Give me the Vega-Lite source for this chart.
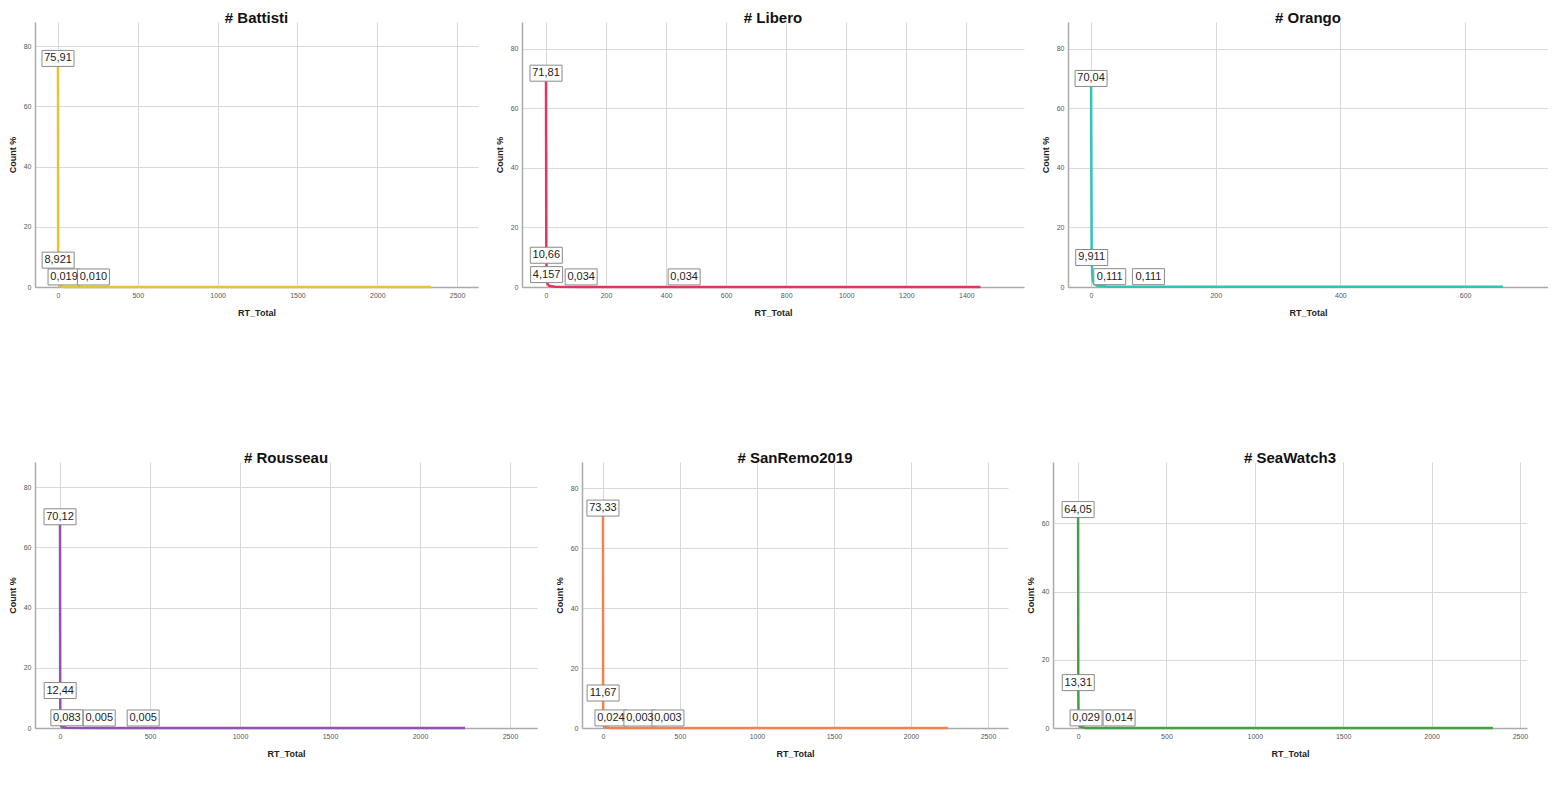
{
  "$schema": "https://vega.github.io/schema/vega-lite/v6.json",
  "padding": {"left": 8, "top": 11, "right": 0, "bottom": 0},
  "background": "white",
  "data": {
    "values": [
      {"tag": "Battisti", "rt": 0, "pct": 75.91, "label": "75,91"},
      {"tag": "Battisti", "rt": 1, "pct": 8.921, "label": "8,921"},
      {"tag": "Battisti", "rt": 2, "pct": 3.4},
      {"tag": "Battisti", "rt": 4, "pct": 1.2},
      {"tag": "Battisti", "rt": 10, "pct": 0.3},
      {"tag": "Battisti", "rt": 38, "pct": 0.019, "label": "0,019"},
      {"tag": "Battisti", "rt": 222, "pct": 0.01, "label": "0,010"},
      {"tag": "Battisti", "rt": 2337, "pct": 0.005},

      {"tag": "Libero", "rt": 0, "pct": 71.81, "label": "71,81"},
      {"tag": "Libero", "rt": 1, "pct": 10.66, "label": "10,66"},
      {"tag": "Libero", "rt": 2, "pct": 4.157, "label": "4,157"},
      {"tag": "Libero", "rt": 3, "pct": 2.1},
      {"tag": "Libero", "rt": 5, "pct": 1.0},
      {"tag": "Libero", "rt": 10, "pct": 0.4},
      {"tag": "Libero", "rt": 30, "pct": 0.1},
      {"tag": "Libero", "rt": 117, "pct": 0.034, "label": "0,034"},
      {"tag": "Libero", "rt": 460, "pct": 0.034, "label": "0,034"},
      {"tag": "Libero", "rt": 1447, "pct": 0.034},

      {"tag": "Orango", "rt": 0, "pct": 70.04, "label": "70,04"},
      {"tag": "Orango", "rt": 1, "pct": 9.911, "label": "9,911"},
      {"tag": "Orango", "rt": 2, "pct": 3.9},
      {"tag": "Orango", "rt": 3, "pct": 2.0},
      {"tag": "Orango", "rt": 5, "pct": 1.0},
      {"tag": "Orango", "rt": 10, "pct": 0.4},
      {"tag": "Orango", "rt": 30, "pct": 0.111, "label": "0,111"},
      {"tag": "Orango", "rt": 92, "pct": 0.111, "label": "0,111"},
      {"tag": "Orango", "rt": 661, "pct": 0.111},

      {"tag": "Rousseau", "rt": 0, "pct": 70.12, "label": "70,12"},
      {"tag": "Rousseau", "rt": 1, "pct": 12.44, "label": "12,44"},
      {"tag": "Rousseau", "rt": 2, "pct": 4.2},
      {"tag": "Rousseau", "rt": 3, "pct": 2.0},
      {"tag": "Rousseau", "rt": 5, "pct": 0.9},
      {"tag": "Rousseau", "rt": 10, "pct": 0.3},
      {"tag": "Rousseau", "rt": 38, "pct": 0.083, "label": "0,083"},
      {"tag": "Rousseau", "rt": 218, "pct": 0.005, "label": "0,005"},
      {"tag": "Rousseau", "rt": 462, "pct": 0.005, "label": "0,005"},
      {"tag": "Rousseau", "rt": 2250, "pct": 0.005},

      {"tag": "SanRemo2019", "rt": 0, "pct": 73.33, "label": "73,33"},
      {"tag": "SanRemo2019", "rt": 1, "pct": 11.67, "label": "11,67"},
      {"tag": "SanRemo2019", "rt": 2, "pct": 3.8},
      {"tag": "SanRemo2019", "rt": 3, "pct": 1.8},
      {"tag": "SanRemo2019", "rt": 5, "pct": 0.8},
      {"tag": "SanRemo2019", "rt": 10, "pct": 0.3},
      {"tag": "SanRemo2019", "rt": 52, "pct": 0.024, "label": "0,024"},
      {"tag": "SanRemo2019", "rt": 240, "pct": 0.003, "label": "0,003"},
      {"tag": "SanRemo2019", "rt": 422, "pct": 0.003, "label": "0,003"},
      {"tag": "SanRemo2019", "rt": 2240, "pct": 0.003},

      {"tag": "SeaWatch3", "rt": 0, "pct": 64.05, "label": "64,05"},
      {"tag": "SeaWatch3", "rt": 1, "pct": 13.31, "label": "13,31"},
      {"tag": "SeaWatch3", "rt": 2, "pct": 5.5},
      {"tag": "SeaWatch3", "rt": 3, "pct": 2.6},
      {"tag": "SeaWatch3", "rt": 5, "pct": 1.2},
      {"tag": "SeaWatch3", "rt": 10, "pct": 0.4},
      {"tag": "SeaWatch3", "rt": 45, "pct": 0.029, "label": "0,029"},
      {"tag": "SeaWatch3", "rt": 232, "pct": 0.014, "label": "0,014"},
      {"tag": "SeaWatch3", "rt": 2347, "pct": 0.014}
    ]
  },
  "vconcat": [
    {
      "spacing": 17,
      "hconcat": [
        {
          "title": "# Battisti",
          "width": 443, "height": 265,
          "transform": [{"filter": "datum.tag === 'Battisti'"}],
          "encoding": {
            "x": {"field": "rt", "type": "quantitative", "title": "RT_Total",
                  "scale": {"domain": [-144, 2631], "nice": false, "zero": false},
                  "axis": {"values": [0, 500, 1000, 1500, 2000, 2500], "format": "d"}},
            "y": {"field": "pct", "type": "quantitative", "title": "Count %",
                  "scale": {"domain": [0, 88], "nice": false},
                  "axis": {"values": [0, 20, 40, 60, 80]}}
          },
          "layer": [
            {"mark": {"type": "line", "color": "#E8C233", "strokeWidth": 2.5}},
            {"transform": [{"filter": "isValid(datum.label) && datum.pct >= 3"}],
             "mark": {"type": "point", "shape": "M-1,-0.5H1V0.5H-1Z", "size": 1024, "filled": true, "fill": "white", "stroke": "#8a8a8a", "strokeWidth": 1, "opacity": 1}},
            {"transform": [{"filter": "isValid(datum.label) && datum.pct >= 3"}],
             "mark": {"type": "text", "fontSize": 11, "color": "#222"},
             "encoding": {"text": {"field": "label"}}},
            {"transform": [{"filter": "isValid(datum.label) && datum.pct < 3"}],
             "mark": {"type": "point", "shape": "M-1,-0.5H1V0.5H-1Z", "size": 1024, "filled": true, "fill": "white", "stroke": "#8a8a8a", "strokeWidth": 1, "opacity": 1, "yOffset": -10}},
            {"transform": [{"filter": "isValid(datum.label) && datum.pct < 3"}],
             "mark": {"type": "text", "fontSize": 11, "color": "#222", "yOffset": -10},
             "encoding": {"text": {"field": "label"}}}
          ]
        },
        {
          "title": "# Libero",
          "width": 502, "height": 265,
          "transform": [{"filter": "datum.tag === 'Libero'"}],
          "encoding": {
            "x": {"field": "rt", "type": "quantitative", "title": "RT_Total",
                  "scale": {"domain": [-80, 1592], "nice": false, "zero": false},
                  "axis": {"values": [0, 200, 400, 600, 800, 1000, 1200, 1400], "format": "d"}},
            "y": {"field": "pct", "type": "quantitative", "title": "Count %",
                  "scale": {"domain": [0, 89], "nice": false},
                  "axis": {"values": [0, 20, 40, 60, 80]}}
          },
          "layer": [
            {"mark": {"type": "line", "color": "#E63260", "strokeWidth": 2.5}},
            {"transform": [{"filter": "isValid(datum.label) && datum.pct >= 3"}],
             "mark": {"type": "point", "shape": "M-1,-0.5H1V0.5H-1Z", "size": 1024, "filled": true, "fill": "white", "stroke": "#8a8a8a", "strokeWidth": 1, "opacity": 1}},
            {"transform": [{"filter": "isValid(datum.label) && datum.pct >= 3"}],
             "mark": {"type": "text", "fontSize": 11, "color": "#222"},
             "encoding": {"text": {"field": "label"}}},
            {"transform": [{"filter": "isValid(datum.label) && datum.pct < 3"}],
             "mark": {"type": "point", "shape": "M-1,-0.5H1V0.5H-1Z", "size": 1024, "filled": true, "fill": "white", "stroke": "#8a8a8a", "strokeWidth": 1, "opacity": 1, "yOffset": -10}},
            {"transform": [{"filter": "isValid(datum.label) && datum.pct < 3"}],
             "mark": {"type": "text", "fontSize": 11, "color": "#222", "yOffset": -10},
             "encoding": {"text": {"field": "label"}}}
          ]
        },
        {
          "title": "# Orango",
          "width": 480, "height": 265,
          "transform": [{"filter": "datum.tag === 'Orango'"}],
          "encoding": {
            "x": {"field": "rt", "type": "quantitative", "title": "RT_Total",
                  "scale": {"domain": [-37, 733], "nice": false, "zero": false},
                  "axis": {"values": [0, 200, 400, 600], "format": "d"}},
            "y": {"field": "pct", "type": "quantitative", "title": "Count %",
                  "scale": {"domain": [0, 89], "nice": false},
                  "axis": {"values": [0, 20, 40, 60, 80]}}
          },
          "layer": [
            {"mark": {"type": "line", "color": "#2EC4B6", "strokeWidth": 2.5}},
            {"transform": [{"filter": "isValid(datum.label) && datum.pct >= 3"}],
             "mark": {"type": "point", "shape": "M-1,-0.5H1V0.5H-1Z", "size": 1024, "filled": true, "fill": "white", "stroke": "#8a8a8a", "strokeWidth": 1, "opacity": 1}},
            {"transform": [{"filter": "isValid(datum.label) && datum.pct >= 3"}],
             "mark": {"type": "text", "fontSize": 11, "color": "#222"},
             "encoding": {"text": {"field": "label"}}},
            {"transform": [{"filter": "isValid(datum.label) && datum.pct < 3"}],
             "mark": {"type": "point", "shape": "M-1,-0.5H1V0.5H-1Z", "size": 1024, "filled": true, "fill": "white", "stroke": "#8a8a8a", "strokeWidth": 1, "opacity": 1, "yOffset": -10}},
            {"transform": [{"filter": "isValid(datum.label) && datum.pct < 3"}],
             "mark": {"type": "text", "fontSize": 11, "color": "#222", "yOffset": -10},
             "encoding": {"text": {"field": "label"}}}
          ]
        }
      ]
    },
    {
      "spacing": 18,
      "hconcat": [
        {
          "title": "# Rousseau",
          "width": 502, "height": 266,
          "transform": [{"filter": "datum.tag === 'Rousseau'"}],
          "encoding": {
            "x": {"field": "rt", "type": "quantitative", "title": "RT_Total",
                  "scale": {"domain": [-139, 2650], "nice": false, "zero": false},
                  "axis": {"values": [0, 500, 1000, 1500, 2000, 2500], "format": "d"}},
            "y": {"field": "pct", "type": "quantitative", "title": "Count %",
                  "scale": {"domain": [0, 88.3], "nice": false},
                  "axis": {"values": [0, 20, 40, 60, 80]}}
          },
          "layer": [
            {"mark": {"type": "line", "color": "#9351B0", "strokeWidth": 2.5}},
            {"transform": [{"filter": "isValid(datum.label) && datum.pct >= 3"}],
             "mark": {"type": "point", "shape": "M-1,-0.5H1V0.5H-1Z", "size": 1024, "filled": true, "fill": "white", "stroke": "#8a8a8a", "strokeWidth": 1, "opacity": 1}},
            {"transform": [{"filter": "isValid(datum.label) && datum.pct >= 3"}],
             "mark": {"type": "text", "fontSize": 11, "color": "#222"},
             "encoding": {"text": {"field": "label"}}},
            {"transform": [{"filter": "isValid(datum.label) && datum.pct < 3"}],
             "mark": {"type": "point", "shape": "M-1,-0.5H1V0.5H-1Z", "size": 1024, "filled": true, "fill": "white", "stroke": "#8a8a8a", "strokeWidth": 1, "opacity": 1, "yOffset": -10}},
            {"transform": [{"filter": "isValid(datum.label) && datum.pct < 3"}],
             "mark": {"type": "text", "fontSize": 11, "color": "#222", "yOffset": -10},
             "encoding": {"text": {"field": "label"}}}
          ]
        },
        {
          "title": "# SanRemo2019",
          "width": 426, "height": 266,
          "transform": [{"filter": "datum.tag === 'SanRemo2019'"}],
          "encoding": {
            "x": {"field": "rt", "type": "quantitative", "title": "RT_Total",
                  "scale": {"domain": [-136, 2630], "nice": false, "zero": false},
                  "axis": {"values": [0, 500, 1000, 1500, 2000, 2500], "format": "d"}},
            "y": {"field": "pct", "type": "quantitative", "title": "Count %",
                  "scale": {"domain": [0, 88.7], "nice": false},
                  "axis": {"values": [0, 20, 40, 60, 80]}}
          },
          "layer": [
            {"mark": {"type": "line", "color": "#F4824E", "strokeWidth": 2.5}},
            {"transform": [{"filter": "isValid(datum.label) && datum.pct >= 3"}],
             "mark": {"type": "point", "shape": "M-1,-0.5H1V0.5H-1Z", "size": 1024, "filled": true, "fill": "white", "stroke": "#8a8a8a", "strokeWidth": 1, "opacity": 1}},
            {"transform": [{"filter": "isValid(datum.label) && datum.pct >= 3"}],
             "mark": {"type": "text", "fontSize": 11, "color": "#222"},
             "encoding": {"text": {"field": "label"}}},
            {"transform": [{"filter": "isValid(datum.label) && datum.pct < 3"}],
             "mark": {"type": "point", "shape": "M-1,-0.5H1V0.5H-1Z", "size": 1024, "filled": true, "fill": "white", "stroke": "#8a8a8a", "strokeWidth": 1, "opacity": 1, "yOffset": -10}},
            {"transform": [{"filter": "isValid(datum.label) && datum.pct < 3"}],
             "mark": {"type": "text", "fontSize": 11, "color": "#222", "yOffset": -10},
             "encoding": {"text": {"field": "label"}}}
          ]
        },
        {
          "title": "# SeaWatch3",
          "width": 474, "height": 266,
          "transform": [{"filter": "datum.tag === 'SeaWatch3'"}],
          "encoding": {
            "x": {"field": "rt", "type": "quantitative", "title": "RT_Total",
                  "scale": {"domain": [-142, 2540], "nice": false, "zero": false},
                  "axis": {"values": [0, 500, 1000, 1500, 2000, 2500], "format": "d"}},
            "y": {"field": "pct", "type": "quantitative", "title": "Count %",
                  "scale": {"domain": [0, 78], "nice": false},
                  "axis": {"values": [0, 20, 40, 60]}}
          },
          "layer": [
            {"mark": {"type": "line", "color": "#45A045", "strokeWidth": 2.5}},
            {"transform": [{"filter": "isValid(datum.label) && datum.pct >= 3"}],
             "mark": {"type": "point", "shape": "M-1,-0.5H1V0.5H-1Z", "size": 1024, "filled": true, "fill": "white", "stroke": "#8a8a8a", "strokeWidth": 1, "opacity": 1}},
            {"transform": [{"filter": "isValid(datum.label) && datum.pct >= 3"}],
             "mark": {"type": "text", "fontSize": 11, "color": "#222"},
             "encoding": {"text": {"field": "label"}}},
            {"transform": [{"filter": "isValid(datum.label) && datum.pct < 3"}],
             "mark": {"type": "point", "shape": "M-1,-0.5H1V0.5H-1Z", "size": 1024, "filled": true, "fill": "white", "stroke": "#8a8a8a", "strokeWidth": 1, "opacity": 1, "yOffset": -10}},
            {"transform": [{"filter": "isValid(datum.label) && datum.pct < 3"}],
             "mark": {"type": "text", "fontSize": 11, "color": "#222", "yOffset": -10},
             "encoding": {"text": {"field": "label"}}}
          ]
        }
      ]
    }
  ],
  "spacing": 134,
  "config": {
    "font": "Liberation Sans",
    "view": {"stroke": null},
    "title": {"fontSize": 15, "fontWeight": "bold", "color": "#111", "offset": -4, "anchor": "middle"},
    "axis": {
      "gridColor": "#d9d9d9", "gridWidth": 1,
      "domainColor": "#aaaaaa", "domainWidth": 1.5,
      "ticks": false,
      "labelFontSize": 7, "labelColor": "#555", "labelPadding": 4,
      "titleFontSize": 9, "titleFontWeight": "bold", "titleColor": "#222"
    },
    "axisX": {"titlePadding": 10},
    "axisY": {"titlePadding": 6}
  }
}
